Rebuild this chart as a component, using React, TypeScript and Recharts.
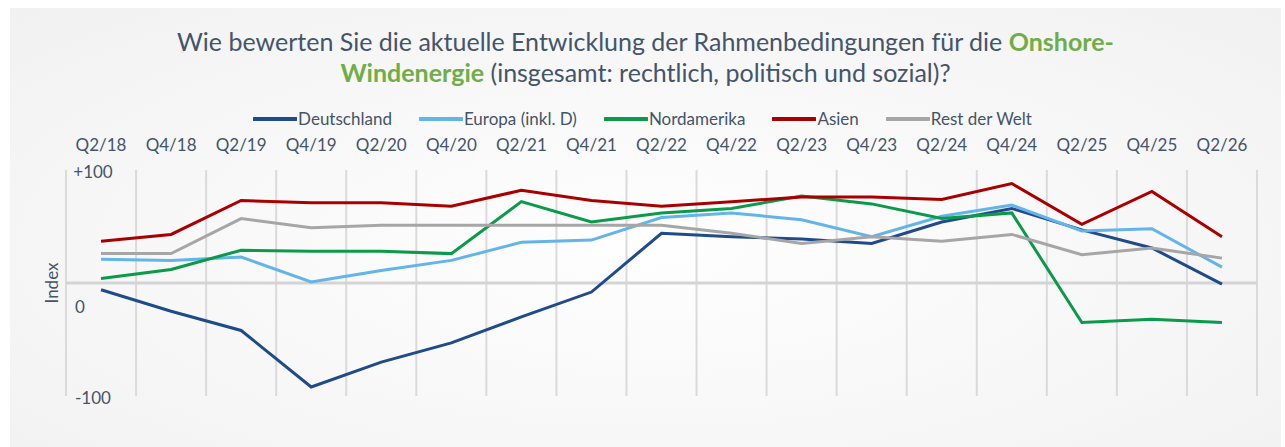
import React from 'react';
import { LineChart, Line, XAxis, YAxis, CartesianGrid, ReferenceLine } from 'recharts';

const quarters = [
  'Q2/18', 'Q4/18', 'Q2/19', 'Q4/19', 'Q2/20', 'Q4/20', 'Q2/21', 'Q4/21', 'Q2/22',
  'Q4/22', 'Q2/23', 'Q4/23', 'Q2/24', 'Q4/24', 'Q2/25', 'Q4/25', 'Q2/26',
];
const deutschland = [-6, -25, -42, -92, -70, -53, -30, -8, 44, 41, 39, 35, 54, 66, 47, 31, -1];
const europa = [21, 20, 23, 1, 11, 20, 36, 38, 58, 62, 56, 41, 59, 69, 46, 48, 14];
const nordamerika = [4, 12, 29, 28, 28, 26, 72, 54, 62, 66, 77, 70, 57, 62, -35, -32, -35];
const asien = [37, 43, 73, 71, 71, 68, 82, 73, 68, 72, 76, 76, 74, 88, 52, 81, 41];
const restDerWelt = [26, 26, 57, 49, 51, 51, 51, 51, 51, 44, 35, 41, 37, 43, 25, 31, 22];
const yTicks = [-100, 0, 100];

const series = [
  { key: 'de', name: 'Deutschland', color: '#1F4B8A', values: deutschland },
  { key: 'eu', name: 'Europa (inkl. D)', color: '#63B4E8', values: europa },
  { key: 'na', name: 'Nordamerika', color: '#0B9A49', values: nordamerika },
  { key: 'as', name: 'Asien', color: '#A80000', values: asien },
  { key: 'rw', name: 'Rest der Welt', color: '#A6A6A6', values: restDerWelt },
];

const data = quarters.map((q, i) => {
  const row: Record<string, string | number> = { q };
  series.forEach((s) => { row[s.key] = s.values[i]; });
  return row;
});

const TEXT = '#44546A';
const FONT = 'Lato, "Open Sans", sans-serif';

const YTick = (props: any) => {
  const { x, y, payload } = props;
  const v = payload.value as number;
  const label = v > 0 ? `+${v}` : `${v}`;
  return (
    <text
      x={v === 0 ? x + 14 : x + 27}
      y={v === 0 ? y + 23 : y + 1}
      textAnchor="middle"
      dominantBaseline="central"
      fill={TEXT}
      fontSize={17}
      fontFamily={FONT}
    >
      {label}
    </text>
  );
};

const LegendRow = () => (
  <div style={{ display: 'flex', justifyContent: 'center', gap: 27, fontFamily: FONT, fontSize: 17, color: TEXT }}>
    {series.map((s) => (
      <div key={s.key} style={{ display: 'flex', alignItems: 'center' }}>
        <svg width={44} height={6} style={{ marginRight: 1 }}>
          <line x1={1} y1={3} x2={43} y2={3} stroke={s.color} strokeWidth={4} strokeLinecap="round" />
        </svg>
        <span>{s.name}</span>
      </div>
    ))}
  </div>
);

export default function App() {
  return (
    <div style={{ position: 'absolute', left: 0, top: 0, width: 1285, height: 447, background: '#fff', overflow: 'hidden' }}>
      <div
        style={{
          position: 'absolute', left: 10, top: 8, width: 1271, height: 439,
          background: 'radial-gradient(ellipse at 50% 55%, #FEFEFE 0%, #F8F8F8 50%, #F1F1F1 100%)',
        }}
      />
      <div
        style={{
          position: 'absolute', left: 10, top: 26, width: 1271, textAlign: 'center',
          fontFamily: FONT, fontSize: 25, lineHeight: '31px', color: TEXT,
        }}
      >
        Wie bewerten Sie die aktuelle Entwicklung der Rahmenbedingungen für die{' '}
        <b style={{ color: '#70AD47' }}>Onshore-</b>
        <br />
        <b style={{ color: '#70AD47' }}>Windenergie</b> (insgesamt: rechtlich, politisch und sozial)?
      </div>
      <div style={{ position: 'absolute', left: 0, top: 108, width: 1285 }}>
        <LegendRow />
      </div>
      <div style={{ position: 'absolute', left: 0, top: 0 }}>
        <LineChart width={1285} height={447} data={data} margin={{ top: 140, right: 28, bottom: 51, left: 10 }}>
          <CartesianGrid
            horizontal={false}
            stroke="#DADADA"
            strokeWidth={2}
            verticalCoordinatesGenerator={({ offset }: any) =>
              quarters.concat(['']).map((_, i) => offset.left + (i * offset.width) / quarters.length)
            }
          />
          <XAxis
            dataKey="q"
            orientation="top"
            scale="band"
            height={30}
            axisLine={false}
            tickLine={false}
            tickSize={0}
            tickMargin={19}
            interval={0}
            tick={{ fill: TEXT, fontSize: 17, fontFamily: FONT }}
          />
          <YAxis
            domain={[-100, 100]}
            ticks={yTicks}
            width={56}
            axisLine={false}
            tickLine={false}
            tickSize={0}
            tickMargin={0}
            tick={<YTick />}
            label={{
              value: 'Index', angle: -90, position: 'insideLeft', offset: 42,
              style: { fill: TEXT, fontSize: 17, fontFamily: FONT, textAnchor: 'middle' },
            }}
          />
          <ReferenceLine y={0} stroke="#D4D4D4" strokeWidth={3} />
          {series.map((s) => (
            <Line
              key={s.key}
              type="linear"
              dataKey={s.key}
              name={s.name}
              stroke={s.color}
              strokeWidth={3}
              dot={false}
              activeDot={false}
              isAnimationActive={false}
            />
          ))}
        </LineChart>
      </div>
    </div>
  );
}
